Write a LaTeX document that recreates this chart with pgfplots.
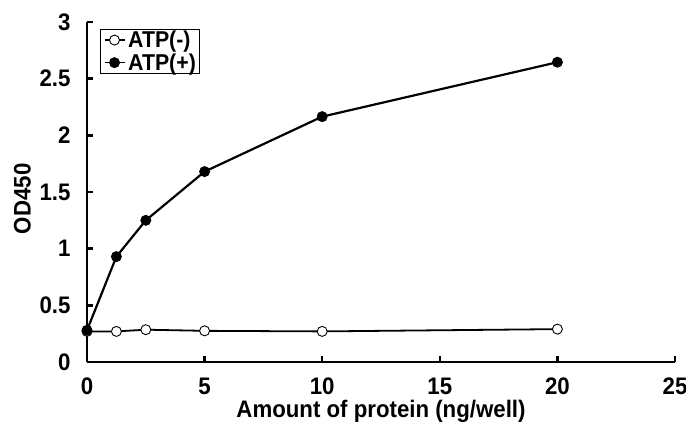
\documentclass[border=0pt]{standalone}
\usepackage{fontspec}
\setmainfont[FakeStretch=0.93]{Liberation Sans}
\usepackage{pgfplots}
\pgfplotsset{compat=1.18}

\newcommand{\chartfont}{\fontsize{24}{24}\selectfont\bfseries}
\newcommand{\legendfont}{\fontsize{23}{23}\selectfont\bfseries}

\begin{document}
\begin{tikzpicture}
\begin{axis}[
    at={(0,0)}, anchor=south west,
    scale only axis,
    width=588bp, height=340bp,
    xmin=0, xmax=25, ymin=0, ymax=3,
    xtick={0,5,...,25},
    ytick={0,0.5,...,3},
    axis x line*=bottom,
    axis y line*=left,
    axis line style={line width=2.8pt, -},
    tick style={line width=2.4pt, black},
    tick align=inside,
    major tick length=6bp,
    /pgf/number format/assume math mode=true,
    ticklabel style={font=\chartfont},
    xticklabel style={inner sep=0pt, anchor=north, yshift=-16bp},
    yticklabel style={xshift=-13bp},
    xlabel={Amount of protein (ng/well)},
    ylabel={OD450},
    label style={font=\chartfont, inner sep=0pt},
    xlabel style={at={(axis description cs:0.5,0)}, anchor=center, yshift=-49bp},
    ylabel style={at={(axis description cs:-0.11,0.48)}, anchor=center, rotate=0},
    clip=false,
    legend style={
        at={(axis description cs:0.022,0.979)}, anchor=north west,
        draw=black, line width=0.8pt,
        font=\legendfont,
        inner xsep=3.5pt, inner ysep=1.5pt, row sep=4.5pt,
        nodes={inner sep=0pt},
        /tikz/every odd column/.append style={column sep=3pt},
    },
    legend cell align=left,
    legend image code/.code={
        \draw[#1, mark=none, line width=1.4pt] (0bp,0bp) -- (20bp,0bp);
        \draw[#1, only marks] plot coordinates {(10bp,0bp)};
    },
]
\addplot[black, line width=1.8pt, mark=*, mark size=5bp,
    mark options={fill=white, line width=0.9pt}]
    coordinates {(0,0.27)(1.25,0.27)(2.5,0.285)(5,0.275)(10,0.27)(20,0.29)};
\addlegendentry{ATP(-)}
\addplot[black, line width=2.2pt, mark=*, mark size=5bp,
    mark options={fill=black, line width=0.9pt}]
    coordinates {(0,0.28)(1.25,0.93)(2.5,1.25)(5,1.68)(10,2.165)(20,2.645)};
\addlegendentry{ATP(+)}
\end{axis}
\pgfresetboundingbox
\useasboundingbox (-87bp,-65bp) rectangle (599bp,362bp);
\end{tikzpicture}
\end{document}
